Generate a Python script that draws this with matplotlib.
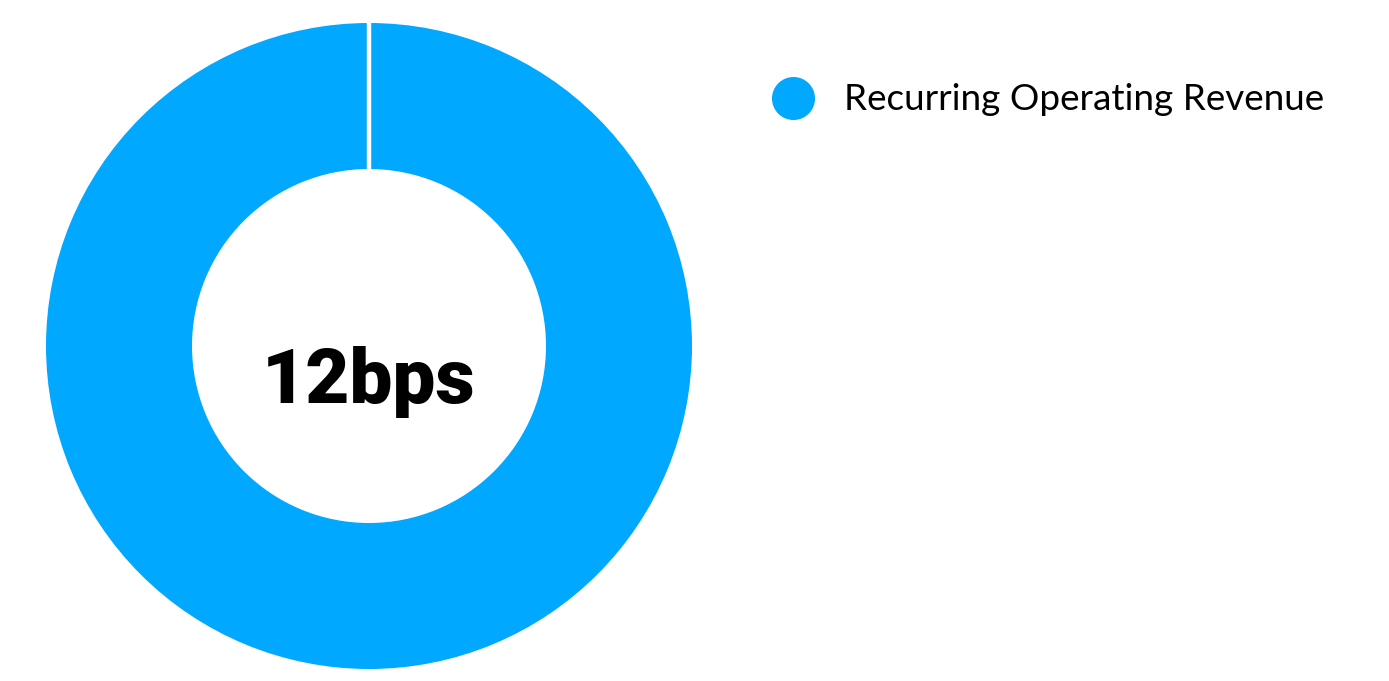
import matplotlib.pyplot as plt
from matplotlib.lines import Line2D

labels = ["Recurring Operating Revenue"]
values = [12]
colors = ["#00A8FF"]
center_label = "12bps"

W, H = 1389, 681
fig = plt.figure(figsize=(W / 100, H / 100), dpi=100)

# donut axes placed in pixel terms: centre (369, 346), outer radius 323
cx, cy, r = 369, 346, 323
ax = fig.add_axes([(cx - r) / W, (H - cy - r) / H, 2 * r / W, 2 * r / H])
ax.set_aspect("equal")
ax.axis("off")

ring = 146 / 323
ax.pie(values, colors=colors, startangle=90, counterclock=False, radius=1,
       wedgeprops=dict(width=ring, edgecolor="none"))
ax.set_xlim(-1, 1)
ax.set_ylim(-1, 1)

# seam where the single slice starts
ax.plot([0, 0], [1 - ring - 0.01, 1.01], color="white", lw=3.2, solid_capstyle="butt")

ax.text(0, -0.112, center_label, ha="center", va="center", fontsize=55,
        fontweight="black", family="Roboto", color="black")

handles = [Line2D([], [], marker="o", linestyle="none", markersize=31,
                  markerfacecolor=c, markeredgecolor="none") for c in colors]
fig.legend(handles, labels, loc="center left", bbox_to_anchor=(752 / W, 1 - 100 / H),
           frameon=False, handletextpad=0.8, borderpad=0, handlelength=1.2,
           prop=dict(family="Lato", size=26.6))

fig.savefig("out.png", dpi=100)
